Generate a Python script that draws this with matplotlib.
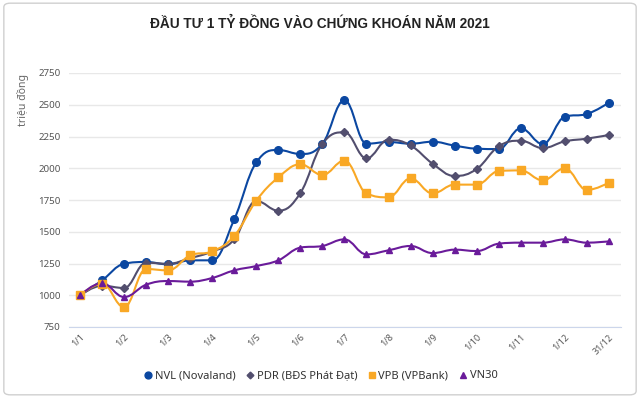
import numpy as np
import matplotlib.pyplot as plt
from matplotlib.path import Path
from matplotlib.patches import PathPatch, FancyBboxPatch
from matplotlib.lines import Line2D

title = "ĐẦU TƯ 1 TỶ ĐỒNG VÀO CHỨNG KHOÁN NĂM 2021"
tick_labels = ["1/1", "1/2", "1/3", "1/4", "1/5", "1/6", "1/7",
               "1/8", "1/9", "1/10", "1/11", "1/12", "31/12"]

nvl = [1000, 1117, 1248, 1262, 1243, 1275, 1275, 1598, 2046, 2144, 2112, 2193, 2535,
       2193, 2207, 2193, 2209, 2178, 2154, 2151, 2314, 2191, 2406, 2427, 2516]
pdr = [1000, 1075, 1057, 1256, 1248, 1292, 1345, 1440, 1742, 1666, 1805, 2193, 2283,
       2078, 2225, 2180, 2036, 1939, 1994, 2173, 2217, 2159, 2212, 2233, 2262]
vpb = [1000, 1091, 907, 1206, 1196, 1314, 1346, 1467, 1745, 1928, 2031, 1947, 2060,
       1802, 1771, 1920, 1802, 1871, 1871, 1978, 1983, 1905, 1999, 1829, 1886]
vn30 = [1000, 1096, 986, 1083, 1112, 1107, 1136, 1196, 1230, 1275, 1375, 1388, 1440,
        1322, 1354, 1388, 1332, 1359, 1348, 1406, 1414, 1414, 1440, 1414, 1424]

series = [
    ("NVL (Novaland)", nvl, "#0b47a1", "o", 5.5),
    ("PDR (BĐS Phát Đạt)", pdr, "#524e6e", "D", 3.8),
    ("VPB (VPBank)", vpb, "#f9a825", "s", 5.5),
    ("VN30", vn30, "#6a1b9a", "^", 5),
]


def spline_path(xs, ys, smoothing=1.5):
    # smooth curve through the points, same idea as a highcharts spline
    n = len(xs)
    verts = [(xs[0], ys[0])]
    codes = [Path.MOVETO]
    ctrl = []
    for i in range(n):
        if i == 0 or i == n - 1:
            ctrl.append(((xs[i], ys[i]), (xs[i], ys[i])))
            continue
        lx = (smoothing * xs[i] + xs[i - 1]) / (smoothing + 1)
        ly = (smoothing * ys[i] + ys[i - 1]) / (smoothing + 1)
        rx = (smoothing * xs[i] + xs[i + 1]) / (smoothing + 1)
        ry = (smoothing * ys[i] + ys[i + 1]) / (smoothing + 1)
        corr = (ry - ly) * (rx - xs[i]) / (rx - lx) + ys[i] - ry
        ly += corr
        ry += corr
        if ly > ys[i - 1] and ly > ys[i]:
            ly = max(ys[i - 1], ys[i])
            ry = 2 * ys[i] - ly
        elif ly < ys[i - 1] and ly < ys[i]:
            ly = min(ys[i - 1], ys[i])
            ry = 2 * ys[i] - ly
        if ry > ys[i + 1] and ry > ys[i]:
            ry = max(ys[i + 1], ys[i])
            ly = 2 * ys[i] - ry
        elif ry < ys[i + 1] and ry < ys[i]:
            ry = min(ys[i + 1], ys[i])
            ly = 2 * ys[i] - ry
        ctrl.append(((lx, ly), (rx, ry)))
    for i in range(1, n):
        verts += [ctrl[i - 1][1], ctrl[i][0], (xs[i], ys[i])]
        codes += [Path.CURVE4] * 3
    return Path(verts, codes)


fig = plt.figure(figsize=(6.4, 3.98), dpi=100)
fig.patches.append(FancyBboxPatch((0.006, 0.008), 0.988, 0.984,
                                  boxstyle="round,pad=0,rounding_size=0.01",
                                  transform=fig.transFigure, facecolor="white",
                                  edgecolor="#d0d0d0", linewidth=1, zorder=-1))
ax = fig.add_axes([69 / 640, 1 - 327 / 398, 552 / 640, 254 / 398])

x = np.arange(len(nvl))
for name, vals, color, marker, ms in series:
    ax.add_patch(PathPatch(spline_path(x, vals), facecolor="none", edgecolor=color,
                           linewidth=1.5, zorder=3))
    ax.plot(x, vals, linestyle="none", marker=marker, color=color, markersize=ms,
            zorder=4)

ax.set_xlim(-0.5, 24.55)
ax.set_ylim(750, 2750)
ax.set_yticks(range(750, 2751, 250))
ax.set_xticks(x[::2])
ax.set_xticklabels(tick_labels, rotation=45, ha="right", rotation_mode="anchor",
                   family="Noto Sans", fontsize=6.5, color="#555555")
for lab in ax.get_yticklabels():
    lab.set_family("Noto Sans")
    lab.set_fontsize(7)
    lab.set_color("#555555")
ax.grid(axis="y", color="#e8e8e8", linewidth=1)
ax.set_axisbelow(True)
for s in ["top", "right", "left"]:
    ax.spines[s].set_visible(False)
ax.spines["bottom"].set_color("#ccd6eb")
ax.tick_params(axis="both", length=0, pad=6)
ax.tick_params(axis="x", pad=4)
ax.set_ylabel("triệu đồng", family="Noto Sans", fontsize=7.5, color="#666666")
ax.yaxis.set_label_coords(-0.072, 0.894)

fig.text(0.5, 1 - 24 / 398, title, ha="center", va="center", family="Liberation Sans",
         fontweight="bold", fontsize=9.8, color="#222222")

handles = [Line2D([], [], linestyle="none", marker=m, color=c, markersize=ms * 0.9)
           for _, _, c, m, ms in series]
fig.legend(handles, [s[0] for s in series], loc="center", bbox_to_anchor=(0.5, 1 - 376 / 398),
           ncol=4, frameon=False, handletextpad=0.1, columnspacing=0.8, handlelength=1,
           prop={"family": "Noto Sans", "size": 8}, labelcolor="#333333")

fig.savefig("out.png", dpi=100)
